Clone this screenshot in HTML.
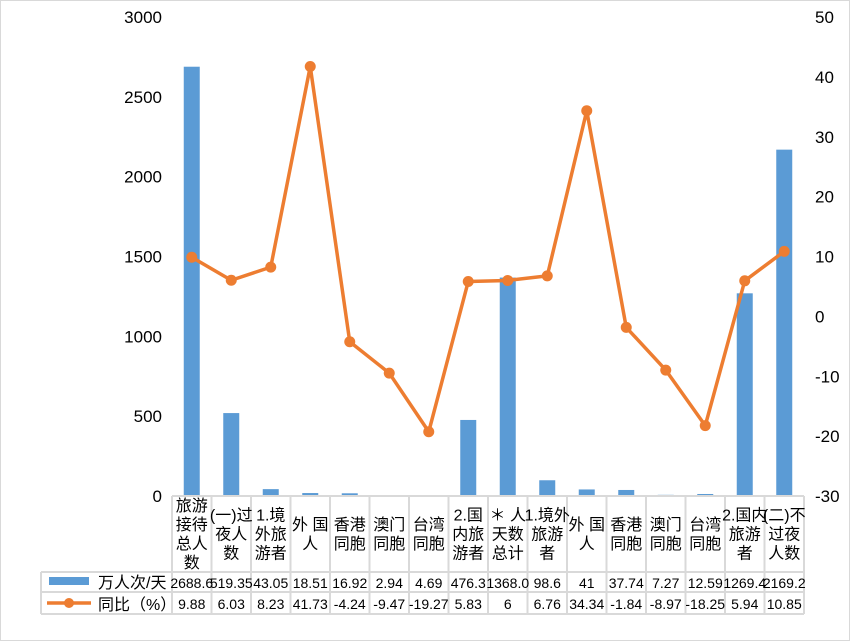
<!DOCTYPE html>
<html><head><meta charset="utf-8"><style>
body{margin:0;background:#fff;}
#wrap{position:relative;width:851px;height:642px;overflow:hidden;background:#fff;font-family:"Liberation Sans","Noto Sans CJK SC",sans-serif;}
</style></head><body>
<div id="wrap">
<svg id="svg" width="851" height="642"></svg>
</div>
<script>
const categories=["旅游/接待/总人/数","(一)过/夜人/数","1.境/外旅/游者","外 国/人","香港/同胞","澳门/同胞","台湾/同胞","2.国/内旅/游者","＊ 人/天数/总计","1.境外/旅游/者","外 国/人","香港/同胞","澳门/同胞","台湾/同胞","2.国内/旅游/者","(二)不/过夜/人数"];
const barValues=[2688.6,519.35,43.05,18.51,16.92,2.94,4.69,476.3,1368.0,98.6,41,37.74,7.27,12.59,1269.4,2169.2];
const barLabels=["2688.6","519.35","43.05","18.51","16.92","2.94","4.69","476.3","1368.0","98.6","41","37.74","7.27","12.59","1269.4","2169.2"];
const lineValues=[9.88,6.03,8.23,41.73,-4.24,-9.47,-19.27,5.83,6,6.76,34.34,-1.84,-8.97,-18.25,5.94,10.85];
const leftTicks=[0,500,1000,1500,2000,2500,3000];
const rightTicks=[-30,-20,-10,0,10,20,30,40,50];
const NS="http://www.w3.org/2000/svg";
const svg=document.getElementById('svg');
const X0=172,X1=804,TOP=17,BOT=496;
const cw=(X1-X0)/categories.length;
function yL(v){return BOT-(v-0)/3000*(BOT-TOP);}
function yR(v){return BOT-(v+30)/80*(BOT-TOP);}
function xc(i){return X0+cw*(i+0.5);}
function mk(tag,attrs,parent){const e=document.createElementNS(NS,tag);for(const k in attrs)e.setAttribute(k,attrs[k]);(parent||svg).appendChild(e);return e;}
let b=mk('rect',{x:0.5,y:0.5,width:849,height:640,fill:'none',stroke:'#d9d9d9'});


leftTicks.forEach(t=>{const e=mk('text',{x:162,y:yL(t)+6,'text-anchor':'end','font-size':17,fill:'#000'});e.textContent=t;

});
rightTicks.forEach(t=>{const e=mk('text',{x:815,y:yR(t)+6,'text-anchor':'start','font-size':17,fill:'#000'});e.textContent=t;

});
barValues.forEach((v,i)=>{const y=Math.min(yL(v),BOT-1);const r=mk('rect',{x:xc(i)-8,y:y,width:16,height:BOT-y,fill:'#5b9bd5'});

});
let d=lineValues.map((v,i)=>(i?'L':'M')+xc(i)+','+yR(v)).join(' ');
let p=mk('path',{d:d,fill:'none',stroke:'#ed7d31','stroke-width':3.5,'stroke-linejoin':'round'});


lineValues.forEach((v,i)=>{const c=mk('circle',{cx:xc(i),cy:yR(v),r:5.5,fill:'#ed7d31'});

});
const g='#d9d9d9';
const R1=572,R2=592,R3=614,LX=41;
[[X0,BOT,X1,BOT],[LX,R1,X1,R1],[LX,R2,X1,R2],[LX,R3,X1,R3]].forEach(a=>{const l=mk('line',{x1:a[0],y1:a[1],x2:a[2],y2:a[3],stroke:g,'stroke-width':2});

});
let lv=mk('line',{x1:LX,y1:R1,x2:LX,y2:R3,stroke:g,'stroke-width':2});


for(let i=0;i<=categories.length;i++){const x=X0+cw*i;const l=mk('line',{x1:x,y1:BOT,x2:x,y2:R3,stroke:g,'stroke-width':2});

}
categories.forEach((c,i)=>{const lines=c.split('/');const lh=19;const start=(BOT+R1)/2-(lines.length*lh)/2+lh-4;
const t=mk('text',{'text-anchor':'middle','font-size':16,fill:'#000'});


lines.forEach((ln,k)=>{const s=mk('tspan',{x:xc(i),y:start+k*lh},t);s.textContent=ln;});});
barLabels.forEach((v,i)=>{const t=mk('text',{x:xc(i),y:588,'text-anchor':'middle','font-size':14,fill:'#000'});t.textContent=v;

});
lineValues.forEach((v,i)=>{const t=mk('text',{x:xc(i),y:609,'text-anchor':'middle','font-size':14,fill:'#000'});t.textContent=String(v);

});
let lr=mk('rect',{x:49,y:577,width:40,height:8,fill:'#5b9bd5'});


let lt=mk('text',{x:98,y:588,'font-size':16,fill:'#000'});lt.textContent='万人次/天';


let ll=mk('line',{x1:47,y1:603,x2:91,y2:603,stroke:'#ed7d31','stroke-width':3.5});


let lc=mk('circle',{cx:69,cy:603,r:5,fill:'#ed7d31'});


let lt2=mk('text',{x:98,y:610,'font-size':16,fill:'#000'});lt2.textContent='同比（%）';


</script>
</body></html>
